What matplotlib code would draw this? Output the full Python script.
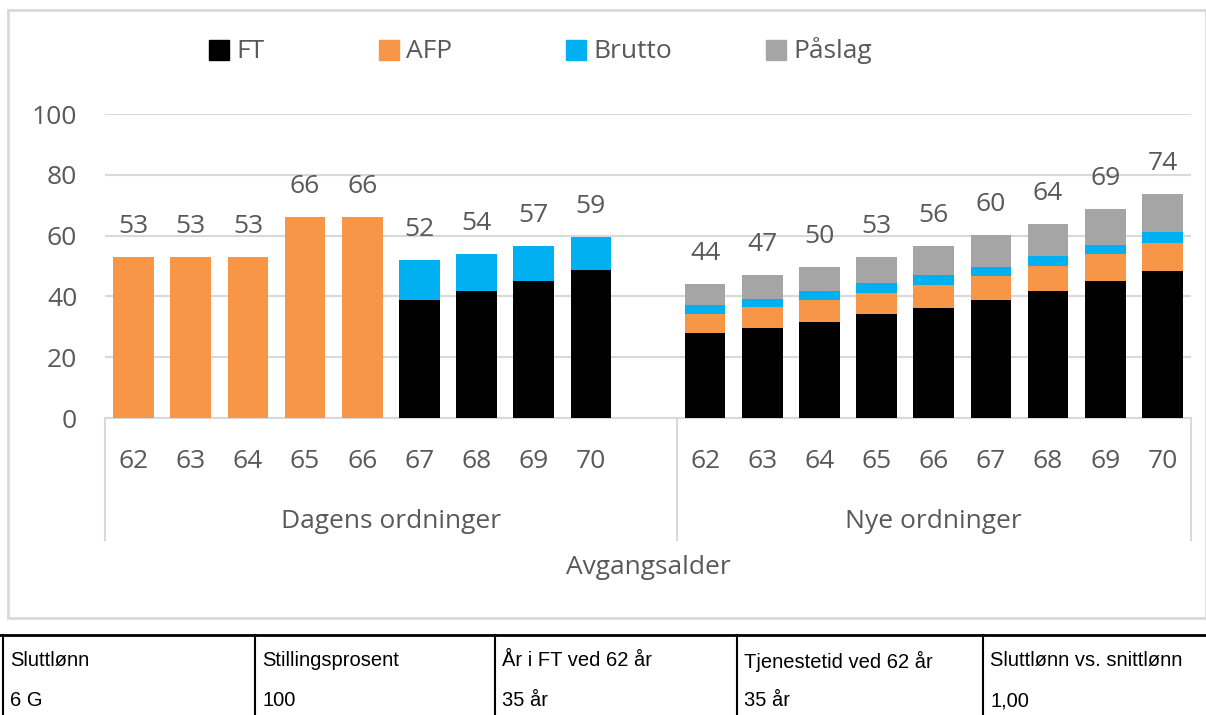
import matplotlib
matplotlib.use("Agg")
import matplotlib.pyplot as plt
from matplotlib.patches import Rectangle
from matplotlib.lines import Line2D
import numpy as np

# ---------------- data ----------------
ages = ["62", "63", "64", "65", "66", "67", "68", "69", "70"]
groups = ["Dagens ordninger", "Nye ordninger"]
series = ["FT", "AFP", "Brutto", "Påslag"]

dagens_ft = [0, 0, 0, 0, 0, 38.8, 41.8, 45.2, 48.6]
dagens_afp = [53.1, 53.1, 53.1, 66.2, 66.2, 0, 0, 0, 0]
dagens_brutto = [0, 0, 0, 0, 0, 13.2, 12.2, 11.4, 10.8]
dagens_paslag = [0, 0, 0, 0, 0, 0, 0, 0, 0]
dagens_labels = [53, 53, 53, 66, 66, 52, 54, 57, 59]

nye_ft = [27.9, 29.5, 31.7, 34.2, 36.3, 38.8, 41.8, 45.2, 48.5]
nye_afp = [6.2, 7.1, 7.0, 7.0, 7.6, 8.0, 8.3, 8.9, 9.2]
nye_brutto = [3.1, 2.7, 3.1, 3.1, 3.0, 3.0, 3.1, 2.9, 3.5]
nye_paslag = [7.0, 7.8, 7.9, 8.8, 9.7, 10.4, 10.7, 11.6, 12.6]
nye_labels = [44, 47, 50, 53, 56, 60, 64, 69, 74]

yticks = [0, 20, 40, 60, 80, 100]

table_headers = ["Sluttlønn", "Stillingsprosent", "År i FT ved 62 år",
                 "Tjenestetid ved 62 år", "Sluttlønn vs. snittlønn"]
table_values = ["6 G", "100", "35 år", "35 år", "1,00"]

colors = ["#000000", "#F79646", "#00B0F0", "#A5A5A5"]
TXT = "#595959"
GRID = "#D9D9D9"
FONT = "Open Sans"

# ---------------- figure ----------------
W, H = 1206, 715
fig = plt.figure(figsize=(W / 100, H / 100), dpi=100)

def fx(px):
    return px / W

def fy(py):
    return 1 - py / H

ax_l, ax_r, ax_t, ax_b = 105, 1191, 114, 418
ax = fig.add_axes([fx(ax_l), fy(ax_b), fx(ax_r - ax_l), (ax_b - ax_t) / H])

# x positions: 9 dagens slots + 1 empty slot + 9 nye slots
x_d = np.arange(9)
x_n = np.arange(10, 19)
bw = 0.71

def stack(xs, vals_list, labels):
    bottom = np.zeros(len(xs))
    for vals, c in zip(vals_list, colors):
        v = np.array(vals, dtype=float)
        ax.bar(xs, v, bw, bottom=bottom, color=c, zorder=3, linewidth=0)
        bottom = bottom + v
    for x, top, lab in zip(xs, bottom, labels):
        ax.annotate(str(lab), (x, top), xytext=(0, 22), textcoords="offset points",
                    ha="center", va="center", fontsize=19, color=TXT, family=FONT)

stack(x_d, [dagens_ft, dagens_afp, dagens_brutto, dagens_paslag], dagens_labels)
stack(x_n, [nye_ft, nye_afp, nye_brutto, nye_paslag], nye_labels)

ax.set_xlim(-0.5, 18.5)
ax.set_ylim(0, 100)
ax.set_yticks(yticks)
ax.set_yticklabels([str(t) for t in yticks], fontsize=19, color=TXT, family=FONT)
ax.tick_params(axis="y", length=0, pad=20)
ax.set_xticks([])
for s in ["top", "right", "left"]:
    ax.spines[s].set_visible(False)
ax.spines["bottom"].set_color(GRID)
ax.spines["bottom"].set_linewidth(1.5)
ax.grid(axis="y", color=GRID, linewidth=1.5, zorder=0)
ax.set_axisbelow(True)

slot_w = (ax_r - ax_l) / 19.0
def slot_px(i):
    return ax_l + (i + 0.5) * slot_w

for xs in (x_d, x_n):
    for i, lab in zip(xs, ages):
        fig.text(fx(slot_px(i)), fy(462), lab, ha="center", va="center",
                 fontsize=19, color=TXT, family=FONT)

fig.text(fx((slot_px(0) + slot_px(9)) / 2), fy(522), groups[0], ha="center",
         va="center", fontsize=19, color=TXT, family=FONT)
fig.text(fx((slot_px(10) + slot_px(18)) / 2), fy(522), groups[1], ha="center",
         va="center", fontsize=19, color=TXT, family=FONT)
fig.text(fx((ax_l + ax_r) / 2), fy(567), "Avgangsalder", ha="center",
         va="center", fontsize=19, color=TXT, family=FONT)

# vertical separators of the multi-level category axis
for px in (ax_l, ax_l + 10 * slot_w, ax_r):
    fig.add_artist(Line2D([fx(px), fx(px)], [fy(418), fy(540)], color=GRID,
                          linewidth=1.5, transform=fig.transFigure))

# legend (manual)
leg_x = [209, 379, 566, 766]
for xx, name, c in zip(leg_x, series, colors):
    fig.add_artist(Rectangle((fx(xx), fy(60)), fx(20), 20 / H, color=c,
                             transform=fig.transFigure))
    fig.text(fx(xx + 27), fy(51), name, ha="left", va="center", fontsize=19,
             color=TXT, family=FONT)

# chart outer border
fig.add_artist(Rectangle((fx(8), fy(618)), fx(1206 - 8), (618 - 10) / H,
                         fill=False, edgecolor=GRID, linewidth=2,
                         transform=fig.transFigure))

# ---------------- table ----------------
col_x = [3, 255, 495, 737, 983]
fig.add_artist(Line2D([0, 1], [fy(635), fy(635)], color="black", linewidth=2,
                      transform=fig.transFigure))
for px in col_x:
    fig.add_artist(Line2D([fx(px), fx(px)], [fy(635), 0], color="black",
                          linewidth=1.5, transform=fig.transFigure))
for px, hd, val in zip(col_x, table_headers, table_values):
    fig.text(fx(px + 7), fy(661), hd, ha="left", va="center", fontsize=14.5,
             color="black", family="Liberation Sans")
    fig.text(fx(px + 7), fy(701), val, ha="left", va="center", fontsize=14.5,
             color="black", family="Liberation Sans")

fig.savefig("out.png", dpi=100)
